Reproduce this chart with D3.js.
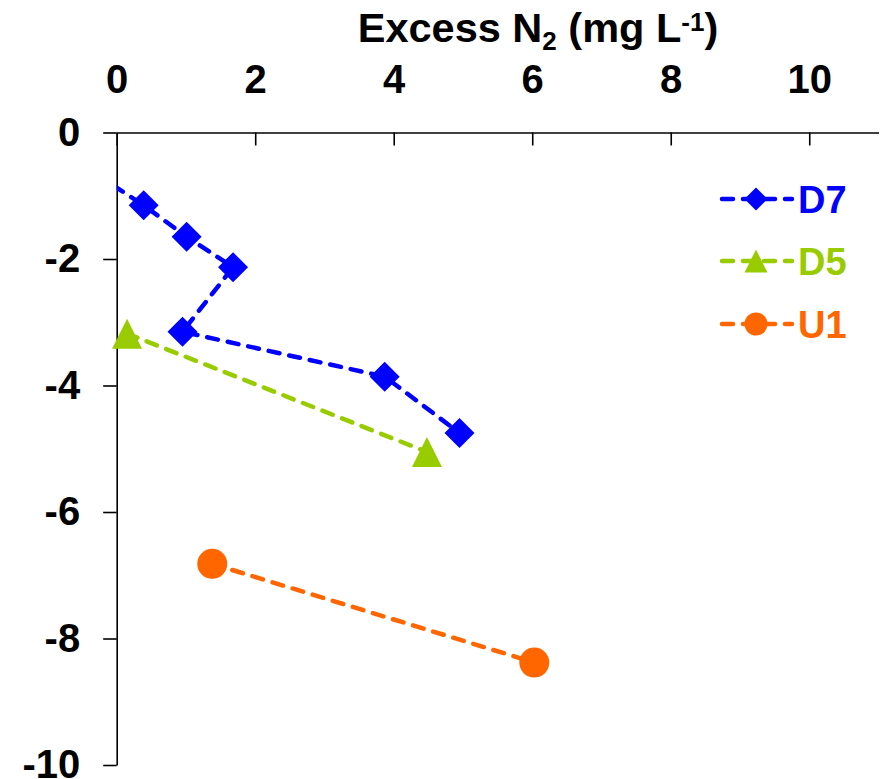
<!DOCTYPE html>
<html>
<head>
<meta charset="utf-8">
<script src="https://cdn.jsdelivr.net/npm/d3@7"></script>
<style>
  html, body { margin: 0; padding: 0; background: #fff; }
  svg { display: block; font-family: "Liberation Sans", Arial, sans-serif; }
</style>
</head>
<body>
<svg id="chart" width="882" height="779"></svg>
<script>
// Excess N2 profiles by depth (m) at three sites
const seriesNames = ["D7", "D5", "U1"];
const seriesColors = ["#0000FF", "#99CC00", "#FF6600"];
const seriesShapes = ["diamond", "triangle", "circle"];

// D7 begins with a slightly negative value that lies left of the axis
const d7Excess = [-0.3, 0.39, 1.01, 1.68, 0.95, 3.87, 4.95];
const d7Depth  = [-0.66, -1.15, -1.65, -2.13, -3.15, -3.86, -4.75];
const d5Excess = [0.15, 4.48];
const d5Depth  = [-3.18, -5.05];
const u1Excess = [1.38, 6.03];
const u1Depth  = [-6.82, -8.38];

const xTicks = [0, 2, 4, 6, 8, 10];
const yTicks = [0, -2, -4, -6, -8, -10];

const seriesData = [
  d7Excess.map((v, i) => ({ x: v, y: d7Depth[i] })),
  d5Excess.map((v, i) => ({ x: v, y: d5Depth[i] })),
  u1Excess.map((v, i) => ({ x: v, y: u1Depth[i] }))
];

const svg = d3.select("#chart");
const plotLeft = 116.7, plotRight = 878.5, plotTop = 132.5, plotBottom = 765;

const x = d3.scaleLinear().domain([0, 11]).range([plotLeft, plotRight]);
const y = d3.scaleLinear().domain([0, -10]).range([plotTop, plotBottom]);

// Title
const title = svg.append("text")
  .attr("x", 538).attr("y", 42)
  .attr("text-anchor", "middle")
  .attr("font-size", 41.5).attr("font-weight", "bold").attr("fill", "#000");
title.append("tspan").text("Excess N");
title.append("tspan").attr("font-size", 26).attr("dy", 8).text("2");
title.append("tspan").attr("dy", -8).text(" (mg L");
title.append("tspan").attr("font-size", 26).attr("dy", -11).text("-1");
title.append("tspan").attr("dy", 11).text(")");

// Axes
const xAxis = svg.append("g")
  .attr("transform", `translate(0,${plotTop})`)
  .call(d3.axisTop(x).tickValues(xTicks).tickSizeInner(-13).tickSizeOuter(0)
    .tickPadding(39.5).tickFormat(d => String(d)));

const yAxis = svg.append("g")
  .attr("transform", `translate(${plotLeft},0)`)
  .call(d3.axisLeft(y).tickValues(yTicks).tickSizeInner(13.5).tickSizeOuter(0)
    .tickPadding(23).tickFormat(d => String(d)));

[xAxis, yAxis].forEach(g => {
  g.select(".domain").attr("stroke", "#000").attr("stroke-width", 1.6);
  g.selectAll(".tick line").attr("stroke", "#000").attr("stroke-width", 1.6);
  g.selectAll(".tick text")
    .attr("font-family", "'Liberation Sans', Arial, sans-serif")
    .attr("font-size", 40).attr("font-weight", "bold").attr("fill", "#000");
});

// Plot-area clip for the lines
svg.append("clipPath").attr("id", "plotClip")
  .append("rect").attr("x", plotLeft).attr("y", plotTop)
  .attr("width", plotRight - plotLeft).attr("height", plotBottom - plotTop);

const line = d3.line().x(d => x(d.x)).y(d => y(d.y));

function markerPath(shape, size) {
  // size is the overall marker width in px
  if (shape === "diamond") {
    const s = size / Math.SQRT2;
    return { d: d3.symbol(d3.symbolSquare, s * s)(), rot: 45 };
  }
  if (shape === "triangle") {
    const h = size;
    return { d: `M0,${-h / 2}L${h / 2},${h / 2}L${-h / 2},${h / 2}Z`, rot: 0 };
  }
  return { d: d3.symbol(d3.symbolCircle, Math.PI * (size / 2) * (size / 2))(), rot: 0 };
}

const dash = "11,10";

seriesData.forEach((pts, i) => {
  const color = seriesColors[i];
  svg.append("path")
    .datum(pts)
    .attr("clip-path", "url(#plotClip)")
    .attr("fill", "none")
    .attr("stroke", color)
    .attr("stroke-width", 4.5)
    .attr("stroke-linecap", "round")
    .attr("stroke-dasharray", dash)
    .attr("d", line);

  const m = markerPath(seriesShapes[i], 30);
  svg.append("g").selectAll("path")
    .data(pts.filter(p => p.x >= x.domain()[0]))
    .join("path")
    .attr("d", m.d)
    .attr("fill", color)
    .attr("transform", p => `translate(${x(p.x)},${y(p.y)}) rotate(${m.rot})`);
});

// Legend
const legendRows = [199, 261, 324];
const legend = svg.append("g");
seriesNames.forEach((name, i) => {
  const color = seriesColors[i];
  const row = legend.append("g").attr("transform", `translate(0,${legendRows[i]})`);
  row.append("line")
    .attr("x1", 722).attr("x2", 792).attr("y1", 0).attr("y2", 0)
    .attr("stroke", color).attr("stroke-width", 4.5)
    .attr("stroke-linecap", "round").attr("stroke-dasharray", dash);
  const m = markerPath(seriesShapes[i], 23);
  row.append("path").attr("d", m.d).attr("fill", color)
    .attr("transform", `translate(756,0) rotate(${m.rot})`);
  row.append("text")
    .attr("x", 798).attr("y", 0).attr("dy", "0.36em")
    .attr("font-size", 38).attr("font-weight", "bold")
    .attr("fill", color).text(name);
});
</script>
</body>
</html>
